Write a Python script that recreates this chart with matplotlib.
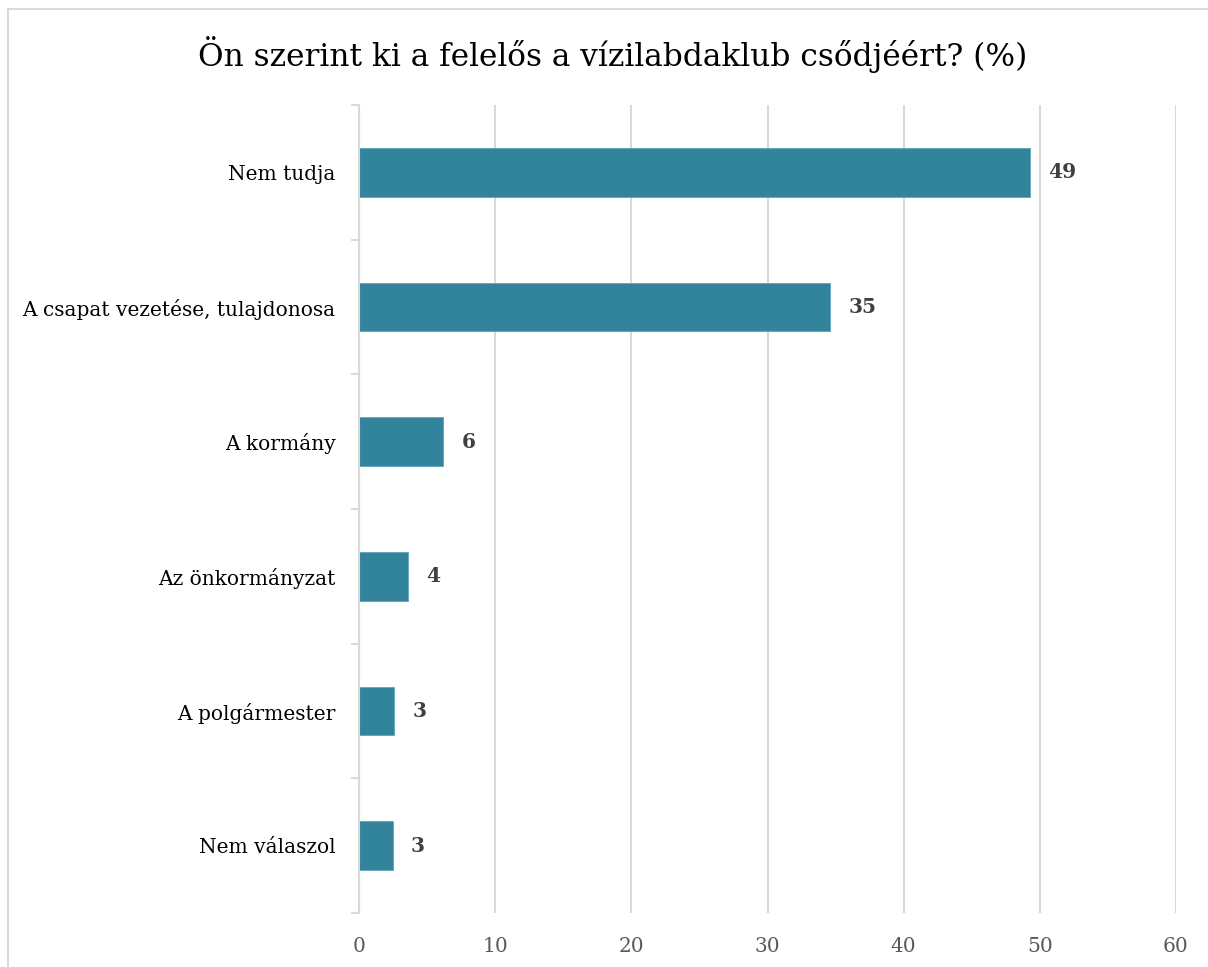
import matplotlib
matplotlib.use("Agg")
import matplotlib.pyplot as plt
from matplotlib.patches import Rectangle
import numpy as np

categories = ["Nem tudja", "A csapat vezetése, tulajdonosa", "A kormány",
              "Az önkormányzat", "A polgármester", "Nem válaszol"]
values = [49.3, 34.6, 6.2, 3.6, 2.6, 2.5]
labels = ["49", "35", "6", "4", "3", "3"]
xticks = [0, 10, 20, 30, 40, 50, 60]
title = "Ön szerint ki a felelős a vízilabdaklub csődjéért? (%)"

serif = "DejaVu Serif"

W, H = 1208, 967
fig = plt.figure(figsize=(W / 100, H / 100), dpi=100)
fig.patch.set_facecolor("white")

# outer frame
fig.patches.append(Rectangle((8 / W, -0.1), 1.2, 1 - 9 / H + 0.1, transform=fig.transFigure,
                             fill=False, edgecolor="#D9D9D9", linewidth=1.5))

ax = fig.add_axes([359 / W, 1 - 913 / H, (1176 - 359) / W, (913 - 105) / H])
y = np.arange(len(categories))
ax.barh(y, values, height=0.36, color="#31849B", edgecolor="#5FA6BA", linewidth=0.6, zorder=3)
ax.set_ylim(len(categories) - 0.5, -0.5)
ax.set_xlim(0, 60)

for yi, v, lab in zip(y, values, labels):
    ax.annotate(lab, (v, yi), xytext=(18, 0), textcoords="offset pixels",
                va="center", ha="left", fontsize=14.5, fontweight="bold",
                color="#404040", family=serif)

ax.set_xticks(xticks)
ax.set_xticklabels([str(t) for t in xticks], fontsize=14.5, color="#595959", family=serif)
ax.tick_params(axis="x", length=0, pad=17)
ax.set_yticks(y)
ax.set_yticklabels(categories, fontsize=14.5, color="black", family=serif)
ax.tick_params(axis="y", which="major", length=0, pad=17)
ax.set_yticks(np.arange(-0.5, len(categories), 1), minor=True)
ax.tick_params(axis="y", which="minor", length=6, color="#D9D9D9", width=1.5)

ax.grid(axis="x", color="#D9D9D9", linewidth=1.5, zorder=0)
for s in ["top", "right", "bottom"]:
    ax.spines[s].set_visible(False)
ax.spines["left"].set_color("#D9D9D9")
ax.spines["left"].set_linewidth(1.5)
ax.spines["left"].set_zorder(4)

fig.text(613 / W, 1 - 66 / H, title, ha="center", va="baseline", fontsize=22.5,
         family=serif, color="black")

fig.savefig("out.png", dpi=100, facecolor="white")
